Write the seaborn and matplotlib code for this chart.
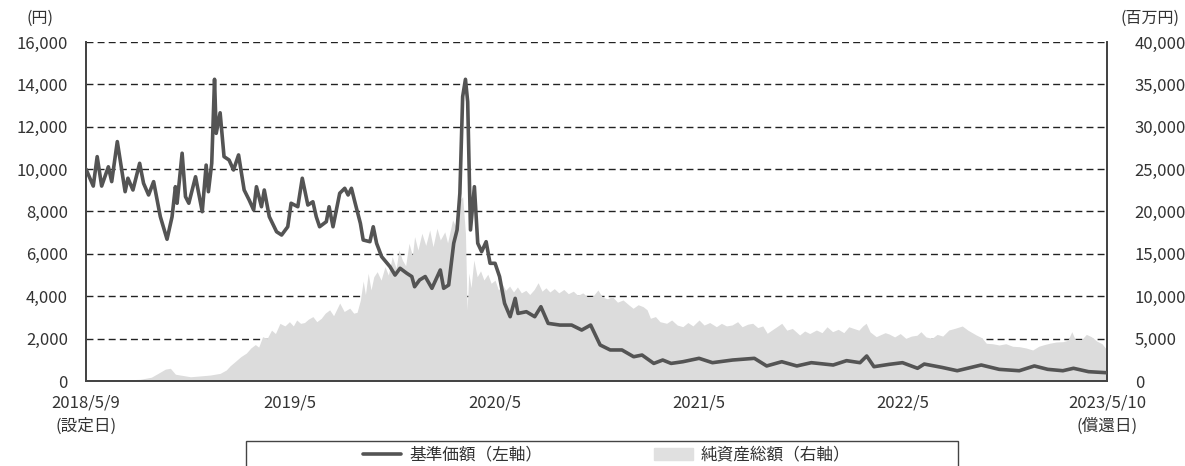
import pandas as pd
import matplotlib.pyplot as plt
import matplotlib.patches as mpatches
import seaborn as sns

sns.set_theme(style="white")
plt.rcParams['font.family'] = ['Noto Sans CJK JP', 'DejaVu Sans']
plt.rcParams['text.color'] = '#333333'

# 基準価額 (円)
nav_dates = [
    "2018-05-09", "2018-05-22", "2018-05-29", "2018-06-06", "2018-06-18", "2018-06-24",
    "2018-07-04", "2018-07-18", "2018-07-23", "2018-08-01", "2018-08-13", "2018-08-20",
    "2018-08-29", "2018-09-07", "2018-09-19", "2018-10-01", "2018-10-10", "2018-10-16",
    "2018-10-19", "2018-10-28", "2018-11-03", "2018-11-09", "2018-11-21", "2018-12-03",
    "2018-12-10", "2018-12-14", "2018-12-20", "2018-12-25", "2018-12-28", "2019-01-04",
    "2019-01-11", "2019-01-20", "2019-01-28", "2019-02-06", "2019-02-16", "2019-02-25",
    "2019-03-05", "2019-03-10", "2019-03-19", "2019-03-24", "2019-04-02", "2019-04-15",
    "2019-04-24", "2019-05-05", "2019-05-11", "2019-05-23", "2019-05-31", "2019-06-10",
    "2019-06-19", "2019-06-25", "2019-07-01", "2019-07-13", "2019-07-18", "2019-07-25",
    "2019-08-06", "2019-08-15", "2019-08-21", "2019-08-27", "2019-09-02", "2019-09-12",
    "2019-09-17", "2019-09-29", "2019-10-05", "2019-10-11", "2019-10-20", "2019-11-04",
    "2019-11-13", "2019-11-22", "2019-12-04", "2019-12-13", "2019-12-18", "2019-12-27",
    "2020-01-06", "2020-01-18", "2020-02-02", "2020-02-08", "2020-02-17", "2020-02-26",
    "2020-03-03", "2020-03-08", "2020-03-13", "2020-03-18", "2020-03-22", "2020-03-27",
    "2020-04-03", "2020-04-09", "2020-04-16", "2020-04-24", "2020-05-01", "2020-05-10",
    "2020-05-18", "2020-05-27", "2020-06-06", "2020-06-15", "2020-06-20", "2020-07-05",
    "2020-07-20", "2020-07-31", "2020-08-13", "2020-09-03", "2020-09-24", "2020-10-12",
    "2020-10-28", "2020-11-14", "2020-12-02", "2020-12-23", "2021-01-13", "2021-01-28",
    "2021-02-18", "2021-03-06", "2021-03-21", "2021-04-11", "2021-05-10", "2021-06-03",
    "2021-07-09", "2021-08-17", "2021-09-08", "2021-10-05", "2021-11-01", "2021-11-27",
    "2022-01-05", "2022-01-29", "2022-02-22", "2022-03-06", "2022-03-19", "2022-04-15",
    "2022-05-09", "2022-06-05", "2022-06-17", "2022-07-19", "2022-08-15", "2022-09-27",
    "2022-10-29", "2022-12-04", "2022-12-31", "2023-01-24", "2023-02-20", "2023-03-11",
    "2023-04-07", "2023-05-10",
]
nav_values = [
    10000, 9200, 10590, 9200, 10110, 9410,
    11300, 8935, 9570, 9015, 10275, 9330,
    8780, 9410, 7755, 6690, 7755, 9170,
    8390, 10750, 8700, 8390, 9640, 7990,
    10190, 8935, 10275, 14240, 11690, 12660,
    10590, 10430, 9960, 10670, 9015, 8540,
    8070, 9170, 8225, 9015, 7755, 7045,
    6890, 7280, 8390, 8225, 9570, 8305,
    8460, 7755, 7280, 7520, 8225, 7280,
    8860, 9095, 8780, 9095, 8460, 7440,
    6655, 6575, 7280, 6500, 5870, 5395,
    5000, 5320, 5085, 4930, 4450, 4770,
    4930, 4375, 5240, 4375, 4530, 6500,
    7130, 8860, 13420, 14240, 13180, 7130,
    9170, 6500, 6105, 6575, 5555, 5555,
    4930, 3665, 3035, 3900, 3190, 3270,
    3035, 3505, 2720, 2640, 2640, 2405,
    2640, 1700, 1465, 1465, 1145, 1225,
    830, 990, 830, 910, 1070, 865,
    990, 1070, 710, 910, 710, 865,
    755, 960, 865, 1180, 675, 785,
    865, 600, 800, 640, 485, 755,
    550, 485, 710, 550, 485, 600,
    440, 390,
]

# 純資産総額 (百万円)
asset_dates = [
    "2018-05-09", "2018-06-21", "2018-08-14", "2018-09-03", "2018-09-15", "2018-09-28",
    "2018-10-07", "2018-10-16", "2018-11-12", "2018-12-17", "2019-01-04", "2019-01-15",
    "2019-01-22", "2019-01-31", "2019-02-10", "2019-02-20", "2019-02-28", "2019-03-08",
    "2019-03-14", "2019-03-21", "2019-03-29", "2019-04-06", "2019-04-13", "2019-04-21",
    "2019-04-30", "2019-05-08", "2019-05-15", "2019-05-21", "2019-05-28", "2019-06-04",
    "2019-06-11", "2019-06-19", "2019-06-26", "2019-07-04", "2019-07-11", "2019-07-19",
    "2019-07-26", "2019-08-06", "2019-08-14", "2019-08-24", "2019-08-31", "2019-09-06",
    "2019-09-12", "2019-09-17", "2019-09-21", "2019-09-26", "2019-10-01", "2019-10-06",
    "2019-10-12", "2019-10-19", "2019-10-26", "2019-11-01", "2019-11-08", "2019-11-15",
    "2019-11-20", "2019-11-26", "2019-12-02", "2019-12-08", "2019-12-14", "2019-12-18",
    "2019-12-24", "2019-12-31", "2020-01-07", "2020-01-14", "2020-01-20", "2020-01-27",
    "2020-02-02", "2020-02-10", "2020-02-15", "2020-02-24", "2020-03-01", "2020-03-08",
    "2020-03-13", "2020-03-18", "2020-03-21", "2020-03-24", "2020-03-28", "2020-04-02",
    "2020-04-08", "2020-04-14", "2020-04-20", "2020-04-27", "2020-05-03", "2020-05-10",
    "2020-05-16", "2020-05-23", "2020-05-29", "2020-06-05", "2020-06-12", "2020-06-19",
    "2020-06-26", "2020-07-04", "2020-07-11", "2020-07-19", "2020-07-26", "2020-08-02",
    "2020-08-09", "2020-08-16", "2020-08-24", "2020-09-01", "2020-09-10", "2020-09-18",
    "2020-09-27", "2020-10-05", "2020-10-14", "2020-10-23", "2020-11-01", "2020-11-10",
    "2020-11-18", "2020-11-27", "2020-12-06", "2020-12-15", "2020-12-25", "2021-01-04",
    "2021-01-12", "2021-01-21", "2021-01-30", "2021-02-06", "2021-02-12", "2021-02-21",
    "2021-03-01", "2021-03-13", "2021-03-22", "2021-04-01", "2021-04-11", "2021-04-20",
    "2021-04-29", "2021-05-10", "2021-05-19", "2021-05-29", "2021-06-10", "2021-06-19",
    "2021-06-28", "2021-07-08", "2021-07-18", "2021-07-26", "2021-08-05", "2021-08-14",
    "2021-08-23", "2021-09-01", "2021-09-09", "2021-09-17", "2021-09-26", "2021-10-05",
    "2021-10-14", "2021-10-24", "2021-11-06", "2021-11-15", "2021-11-24", "2021-12-06",
    "2021-12-16", "2021-12-25", "2022-01-04", "2022-01-14", "2022-01-24", "2022-02-02",
    "2022-02-10", "2022-02-20", "2022-02-27", "2022-03-05", "2022-03-12", "2022-03-23",
    "2022-04-01", "2022-04-08", "2022-04-15", "2022-04-25", "2022-05-05", "2022-05-15",
    "2022-05-25", "2022-06-04", "2022-06-11", "2022-06-20", "2022-07-01", "2022-07-10",
    "2022-07-20", "2022-07-31", "2022-08-10", "2022-08-24", "2022-09-03", "2022-09-18",
    "2022-09-28", "2022-10-06", "2022-10-17", "2022-10-29", "2022-11-10", "2022-11-22",
    "2022-12-04", "2022-12-16", "2022-12-28", "2023-01-08", "2023-01-18", "2023-01-27",
    "2023-02-08", "2023-02-20", "2023-03-01", "2023-03-08", "2023-03-14", "2023-03-25",
    "2023-04-03", "2023-04-12", "2023-04-22", "2023-05-01", "2023-05-10",
]
asset_values = [
    0, 50, 200, 450, 900, 1400,
    1500, 800, 500, 700, 900, 1300,
    1800, 2300, 2870, 3300, 3900, 4300,
    4000, 5230, 5000, 6000, 5600, 6800,
    6500, 7000, 6500, 7200, 6800, 6900,
    7300, 7600, 7000, 7400, 8000, 8400,
    7700, 9200, 8200, 8600, 8000, 8100,
    9560, 11800, 10200, 12710, 10740, 12300,
    12900, 11900, 13490, 12500, 14670, 13300,
    15460, 14280, 13600, 16250, 14800, 17030,
    15460, 17430, 16000, 17820, 15850, 18020,
    16640, 17600, 16300, 19000, 18200, 21360,
    21750, 17430, 8380, 12740, 11000, 14280,
    12300, 13000, 11920, 12600, 11530, 11900,
    10740, 11400, 10700, 11200, 10500, 11100,
    10400, 10700, 10200, 10800, 11600, 10600,
    11000, 10500, 10900, 10400, 10800, 10300,
    10600, 10100, 10400, 9900, 10000, 10740,
    9900, 9700, 9950, 9300, 9560, 9000,
    8580, 9000, 8770, 8400, 7400, 7600,
    7000, 6810, 7200, 6600, 6410, 6900,
    6500, 7200, 6600, 6900, 6410, 6800,
    6500, 6610, 7000, 6400, 6700, 6810,
    6300, 6500, 5630, 6000, 6400, 6810,
    6000, 6200, 5430, 5900, 5600, 6020,
    5700, 6400, 5820, 6100, 5700, 6400,
    6220, 6000, 6500, 6810, 5800, 5230,
    5500, 5700, 5545, 5200, 5600, 5035,
    5300, 5400, 5820, 5200, 5035, 5500,
    5300, 6020, 6200, 6490, 6000, 5430,
    5100, 4450, 4400, 4250, 4400, 4100,
    4050, 3900, 3660, 4100, 4300, 4450,
    4600, 4640, 4800, 5820, 4900, 4840,
    5500, 5230, 4700, 4400, 3660,
]

tick_dates = ["2018-05-09", "2019-05-09", "2020-05-09", "2021-05-09", "2022-05-09", "2023-05-10"]
tick_labels = ["2018/5/9\n(設定日)", "2019/5", "2020/5", "2021/5", "2022/5", "2023/5/10\n(償還日)"]
left_ticks = [0, 2000, 4000, 6000, 8000, 10000, 12000, 14000, 16000]
right_ticks = [0, 5000, 10000, 15000, 20000, 25000, 30000, 35000, 40000]

nav = pd.DataFrame({"date": pd.to_datetime(nav_dates), "nav": nav_values})
assets = pd.DataFrame({"date": pd.to_datetime(asset_dates), "assets": asset_values})

fig = plt.figure(figsize=(11.85, 4.66), dpi=100)
ax = fig.add_axes([86 / 1185, 1 - 381 / 466, 1021 / 1185, 339 / 466])
ax2 = ax.twinx()

# area on the right axis, drawn behind the line and above the grid
ax2.fill_between(assets["date"], 0, assets["assets"], color="#dcdcdc", linewidth=0, zorder=2)
ax2.set_ylim(0, 40000)
ax2.set_yticks(right_ticks)
ax2.set_yticklabels([f"{v:,}" for v in right_ticks])
ax2.set_axisbelow(True)
ax2.yaxis.grid(True, color="#222222", linestyle=(0, (5, 3)), linewidth=1.0, zorder=0)

sns.lineplot(data=nav, x="date", y="nav", ax=ax, color="#545454", linewidth=2.6, zorder=3)
ax.set_zorder(ax2.get_zorder() + 1)
ax.patch.set_visible(False)
ax.set_ylim(0, 16000)
ax.set_yticks(left_ticks)
ax.set_yticklabels([f"{v:,}" for v in left_ticks])
ax.set_xlim(pd.Timestamp("2018-05-09"), pd.Timestamp("2023-05-10"))
ax.set_xticks(pd.to_datetime(tick_dates))
ax.set_xticklabels(tick_labels, linespacing=1.45)
ax.set_xlabel("")
ax.set_ylabel("")
ax.grid(False)

for a in (ax, ax2):
    a.spines["top"].set_visible(False)
    for s in ("left", "right", "bottom"):
        a.spines[s].set_color("#444444")
        a.spines[s].set_linewidth(1.3)

ax.tick_params(axis="x", direction="in", length=6, width=1.2, color="#444444",
               pad=10, labelsize=12, labelcolor="#333333")
ax.tick_params(axis="y", length=0, pad=13, labelsize=12, labelcolor="#333333")
ax2.tick_params(axis="y", length=0, pad=20, labelsize=12, labelcolor="#333333")

fig.text(40 / 1185, 1 - 18 / 466, "(円)", ha="center", va="center", fontsize=11.5)
fig.text(1150 / 1185, 1 - 18 / 466, "(百万円)", ha="center", va="center", fontsize=11.5)

# legend (box cut off by the lower edge)
fig.patches.append(mpatches.Rectangle((246 / 1185, -0.05), 712 / 1185, (466 - 441) / 466 + 0.05,
                                      transform=fig.transFigure, fill=False,
                                      edgecolor="#444444", linewidth=1.0))
line_handle = plt.Line2D([], [], color="#545454", linewidth=2.6)
area_handle = mpatches.Patch(color="#e0e0e0")
fig.legend([line_handle, area_handle], ["基準価額（左軸）", "純資産総額（右軸）"],
           loc="center left", bbox_to_anchor=(363 / 1185, 1 - 455 / 466), ncol=2,
           frameon=False, fontsize=12, handlelength=2.3, handletextpad=0.5,
           columnspacing=6.7, borderpad=0, borderaxespad=0)

fig.savefig("out.png", dpi=100)
